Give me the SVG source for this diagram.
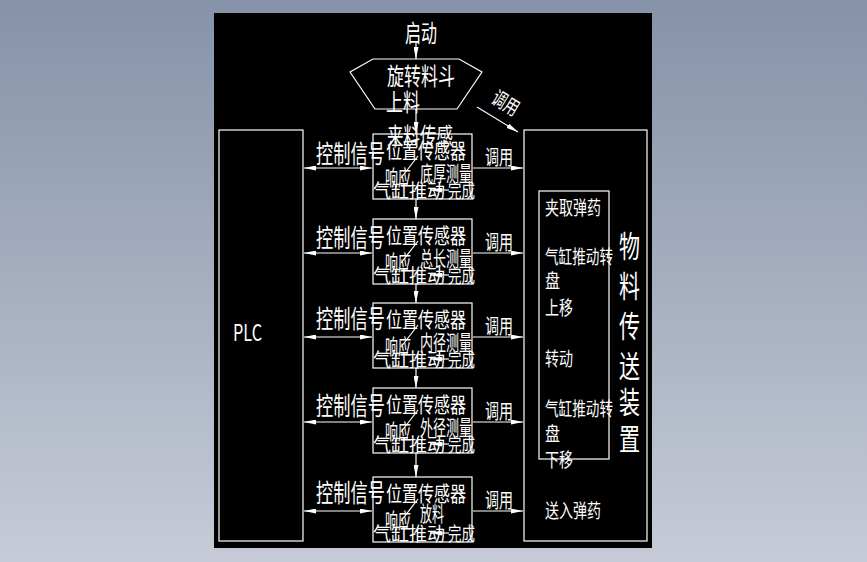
<svg xmlns="http://www.w3.org/2000/svg" width="867" height="562" viewBox="0 0 867 562">
<defs>
<linearGradient id="bg" x1="0" y1="0" x2="0" y2="1">
<stop offset="0" stop-color="#8592a8"/>
<stop offset="1" stop-color="#c6cbd7"/>
</linearGradient>
<marker id="ah" viewBox="0 0 12 5" refX="12" refY="2.5" markerWidth="12" markerHeight="5" markerUnits="userSpaceOnUse" orient="auto-start-reverse">
<path d="M0,0 L12,2.5 L0,5 z" fill="#fff"/>
</marker>
<style>
.ln{stroke:#fff;stroke-width:1.2;fill:none}
.ar{stroke:#fff;stroke-width:1.2;fill:none;marker-end:url(#ah)}
.da{stroke:#fff;stroke-width:1.2;fill:none;marker-start:url(#ah);marker-end:url(#ah)}
.t{fill:#fff;font-family:"Noto Sans CJK SC","Noto Sans CJK JP",sans-serif}
.s22{font-size:24px}.s20{font-size:21px}.s18{font-size:19px}.s28{font-size:30px}
</style>
</defs>
<rect width="867" height="562" fill="url(#bg)"/>
<rect x="214" y="13" width="438" height="535" fill="#000"/>

<g id="start"><text class="t s22" x="405" y="42" textLength="32" lengthAdjust="spacingAndGlyphs">启动</text></g>

<g id="hopper">
<polygon class="ln" points="373,59 459,59 482,72 457,109 375,109 350,72"/>
<text class="t s22" x="387" y="85" textLength="68" lengthAdjust="spacingAndGlyphs">旋转料斗</text>
<text class="t s22" x="386" y="111" textLength="34" lengthAdjust="spacingAndGlyphs">上料</text>
</g>

<g id="plc">
<rect class="ln" x="219" y="130" width="84" height="411"/>
<text class="t" x="233" y="341" font-family="Liberation Sans, sans-serif" font-size="23" textLength="29" lengthAdjust="spacingAndGlyphs">PLC</text>
</g>

<g id="transfer">
<rect class="ln" x="524" y="130" width="123" height="411"/>
<rect class="ln" x="539" y="191" width="70" height="268"/>
<g class="t s18">
<text x="545" y="215" textLength="56" lengthAdjust="spacingAndGlyphs">夹取弹药</text>
<text x="545" y="264" textLength="68" lengthAdjust="spacingAndGlyphs">气缸推动转</text>
<text x="545" y="288" textLength="15" lengthAdjust="spacingAndGlyphs">盘</text>
<text x="545" y="315" textLength="28" lengthAdjust="spacingAndGlyphs">上移</text>
<text x="545" y="366" textLength="28" lengthAdjust="spacingAndGlyphs">转动</text>
<text x="545" y="416" textLength="68" lengthAdjust="spacingAndGlyphs">气缸推动转</text>
<text x="545" y="441" textLength="15" lengthAdjust="spacingAndGlyphs">盘</text>
<text x="545" y="467" textLength="28" lengthAdjust="spacingAndGlyphs">下移</text>
<text x="545" y="518" textLength="56" lengthAdjust="spacingAndGlyphs">送入弹药</text>
</g>
<g class="t s28">
<text x="619" y="257" textLength="21" lengthAdjust="spacingAndGlyphs">物</text>
<text x="619" y="297" textLength="21" lengthAdjust="spacingAndGlyphs">料</text>
<text x="619" y="337" textLength="21" lengthAdjust="spacingAndGlyphs">传</text>
<text x="619" y="377" textLength="21" lengthAdjust="spacingAndGlyphs">送</text>
<text x="619" y="413" textLength="21" lengthAdjust="spacingAndGlyphs">装</text>
<text x="619" y="450" textLength="21" lengthAdjust="spacingAndGlyphs">置</text>
</g>
</g>

<g id="step1">
<rect class="ln" x="373" y="134" width="99" height="65"/>
<text class="t s22" x="387" y="145" textLength="66" lengthAdjust="spacingAndGlyphs">来料传感</text>
<text class="t s20" x="386" y="158" textLength="80" lengthAdjust="spacingAndGlyphs">位置传感器</text>
<text class="t s20" x="385" y="185" textLength="26" lengthAdjust="spacingAndGlyphs">响应</text>
<text class="t s20" x="420" y="181" textLength="52" lengthAdjust="spacingAndGlyphs">底厚测量</text>
<text class="t s18" x="373" y="198" textLength="72" lengthAdjust="spacingAndGlyphs">气缸推动</text>
<text class="t s18" x="448" y="198" textLength="27" lengthAdjust="spacingAndGlyphs">完成</text>
</g>
<g id="step2">
<rect class="ln" x="373" y="219" width="99" height="65"/>
<text class="t s20" x="386" y="243" textLength="80" lengthAdjust="spacingAndGlyphs">位置传感器</text>
<text class="t s20" x="385" y="270" textLength="26" lengthAdjust="spacingAndGlyphs">响应</text>
<text class="t s20" x="420" y="266" textLength="52" lengthAdjust="spacingAndGlyphs">总长测量</text>
<text class="t s18" x="373" y="283" textLength="72" lengthAdjust="spacingAndGlyphs">气缸推动</text>
<text class="t s18" x="448" y="283" textLength="27" lengthAdjust="spacingAndGlyphs">完成</text>
</g>
<g id="step3">
<rect class="ln" x="373" y="303" width="99" height="65"/>
<text class="t s20" x="386" y="327" textLength="80" lengthAdjust="spacingAndGlyphs">位置传感器</text>
<text class="t s20" x="385" y="354" textLength="26" lengthAdjust="spacingAndGlyphs">响应</text>
<text class="t s20" x="420" y="350" textLength="52" lengthAdjust="spacingAndGlyphs">内径测量</text>
<text class="t s18" x="373" y="367" textLength="72" lengthAdjust="spacingAndGlyphs">气缸推动</text>
<text class="t s18" x="448" y="367" textLength="27" lengthAdjust="spacingAndGlyphs">完成</text>
</g>
<g id="step4">
<rect class="ln" x="373" y="388" width="99" height="65"/>
<text class="t s20" x="386" y="412" textLength="80" lengthAdjust="spacingAndGlyphs">位置传感器</text>
<text class="t s20" x="385" y="439" textLength="26" lengthAdjust="spacingAndGlyphs">响应</text>
<text class="t s20" x="420" y="435" textLength="52" lengthAdjust="spacingAndGlyphs">外径测量</text>
<text class="t s18" x="373" y="452" textLength="72" lengthAdjust="spacingAndGlyphs">气缸推动</text>
<text class="t s18" x="448" y="452" textLength="27" lengthAdjust="spacingAndGlyphs">完成</text>
</g>
<g id="step5">
<rect class="ln" x="373" y="477" width="99" height="65"/>
<text class="t s20" x="386" y="501" textLength="80" lengthAdjust="spacingAndGlyphs">位置传感器</text>
<text class="t s20" x="385" y="528" textLength="26" lengthAdjust="spacingAndGlyphs">响应</text>
<text class="t s20" x="420" y="521" textLength="24" lengthAdjust="spacingAndGlyphs">放料</text>
<text class="t s18" x="373" y="541" textLength="72" lengthAdjust="spacingAndGlyphs">气缸推动</text>
<text class="t s18" x="448" y="541" textLength="27" lengthAdjust="spacingAndGlyphs">完成</text>
</g>

<g id="labels">
<g class="t" font-size="25">
<text x="316" y="163" textLength="69" lengthAdjust="spacingAndGlyphs">控制信号</text>
<text x="316" y="247" textLength="69" lengthAdjust="spacingAndGlyphs">控制信号</text>
<text x="316" y="328" textLength="69" lengthAdjust="spacingAndGlyphs">控制信号</text>
<text x="316" y="415" textLength="69" lengthAdjust="spacingAndGlyphs">控制信号</text>
<text x="316" y="502" textLength="69" lengthAdjust="spacingAndGlyphs">控制信号</text>
</g>
<g class="t" font-size="20">
<text x="485" y="165" textLength="28" lengthAdjust="spacingAndGlyphs">调用</text>
<text x="485" y="250" textLength="28" lengthAdjust="spacingAndGlyphs">调用</text>
<text x="485" y="334" textLength="28" lengthAdjust="spacingAndGlyphs">调用</text>
<text x="485" y="419" textLength="28" lengthAdjust="spacingAndGlyphs">调用</text>
<text x="485" y="508" textLength="28" lengthAdjust="spacingAndGlyphs">调用</text>
<text x="0" y="0" textLength="28" lengthAdjust="spacingAndGlyphs" transform="translate(490,102) rotate(31)">调用</text>
</g>
</g>

<g id="connectors">
<line class="ar" x1="416" y1="43" x2="416" y2="59"/>
<line class="ar" x1="416" y1="109" x2="416" y2="134"/>
<line class="ar" x1="416" y1="199" x2="416" y2="219"/>
<line class="ar" x1="416" y1="284" x2="416" y2="303"/>
<line class="ar" x1="416" y1="368" x2="416" y2="388"/>
<line class="ar" x1="416" y1="453" x2="416" y2="477"/>
<line class="ar" x1="477" y1="107" x2="518" y2="132"/>
<line class="da" x1="304" y1="168" x2="372" y2="168"/>
<line class="da" x1="304" y1="253" x2="372" y2="253"/>
<line class="da" x1="304" y1="337" x2="372" y2="337"/>
<line class="da" x1="304" y1="422" x2="372" y2="422"/>
<line class="da" x1="304" y1="511" x2="372" y2="511"/>
<line class="ar" x1="473" y1="168" x2="523" y2="168"/>
<line class="ar" x1="473" y1="253" x2="523" y2="253"/>
<line class="ar" x1="473" y1="337" x2="523" y2="337"/>
<line class="ar" x1="473" y1="422" x2="523" y2="422"/>
<line class="ar" x1="473" y1="511" x2="523" y2="511"/>
<line class="ar" x1="449" y1="190" x2="430" y2="190"/>
<line class="ar" x1="449" y1="275" x2="430" y2="275"/>
<line class="ar" x1="449" y1="359" x2="430" y2="359"/>
<line class="ar" x1="449" y1="444" x2="430" y2="444"/>
<line class="ar" x1="449" y1="533" x2="430" y2="533"/>
<line class="ln" x1="401" y1="178" x2="418" y2="156"/>
<line class="ln" x1="401" y1="263" x2="418" y2="241"/>
<line class="ln" x1="401" y1="347" x2="418" y2="325"/>
<line class="ln" x1="401" y1="432" x2="418" y2="410"/>
<line class="ln" x1="401" y1="521" x2="418" y2="499"/>
</g>
</svg>
